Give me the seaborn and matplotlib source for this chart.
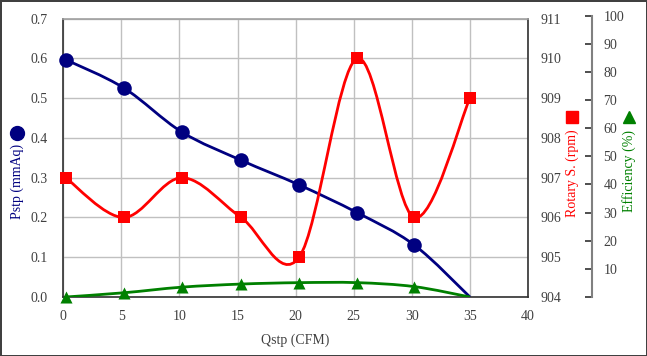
import numpy as np
import pandas as pd
import seaborn as sns
import matplotlib.pyplot as plt
from matplotlib.path import Path
from matplotlib.patches import PathPatch
from matplotlib.lines import Line2D

# data
qstp = [0.2, 5.2, 10.2, 15.3, 20.3, 25.3, 30.2, 35.0]
pstp = [0.597, 0.526, 0.415, 0.344, 0.282, 0.212, 0.131, 0.0]
rpm = [907, 906, 907, 906, 905, 910, 906, 909]
eff = [0.0, 1.5, 3.5, 4.6, 5.1, 5.1, 3.7, 0.0]

df = pd.DataFrame({'Qstp': qstp, 'Pstp': pstp, 'rpm': rpm, 'eff': eff})

sns.set_style("white")
plt.rcParams['font.family'] = ['Liberation Serif', 'DejaVu Sans']
plt.rcParams['font.size'] = 10

NAVY = '#000080'
RED = '#ff0000'
GREEN = '#008000'
TXT = '#404040'


def smooth(x, y):
    # excel-like smoothed line (bezier through the points)
    p = np.column_stack([x, y]).astype(float)
    n = len(p)
    verts = [p[0]]
    codes = [Path.MOVETO]
    for i in range(n - 1):
        p0 = p[max(i - 1, 0)]
        p1 = p[i]
        p2 = p[i + 1]
        p3 = p[min(i + 2, n - 1)]
        verts += [p1 + (p2 - p0) / 6, p2 - (p3 - p1) / 6, p2]
        codes += [Path.CURVE4] * 3
    return Path(verts, codes)


W, H = 647, 356
fig = plt.figure(figsize=(W / 100, H / 100), dpi=100)
fig.patch.set_edgecolor('#404040')
fig.patch.set_linewidth(2)

left, right, top, bot = 63.3, 528, 18.7, 297
ax = fig.add_axes([left / W, 1 - bot / H, (right - left) / W, (bot - top) / H])
ax2 = ax.twinx()
ax3 = fig.add_axes([left / W, 1 - bot / H, (right - left) / W, (bot - 15.7) / H], sharex=ax)
ax3.patch.set_visible(False)

# Pstp
ax.add_patch(PathPatch(smooth(df.Qstp, df.Pstp), fill=False, ec=NAVY, lw=2, zorder=3))
sns.scatterplot(data=df.iloc[:-1], x='Qstp', y='Pstp', ax=ax, color=NAVY, marker='o',
                s=110, edgecolor=NAVY, linewidth=0, zorder=4, clip_on=False)
# rotary speed
ax2.add_patch(PathPatch(smooth(df.Qstp, df.rpm), fill=False, ec=RED, lw=2, zorder=3))
sns.scatterplot(data=df, x='Qstp', y='rpm', ax=ax2, color=RED, marker='s',
                s=80, edgecolor=RED, linewidth=0, zorder=4, clip_on=False)
# efficiency
ax3.add_patch(PathPatch(smooth(df.Qstp, df.eff), fill=False, ec=GREEN, lw=2, zorder=3))
sns.scatterplot(data=df.iloc[:-1], x='Qstp', y='eff', ax=ax3, color=GREEN, marker='^',
                s=75, edgecolor=GREEN, linewidth=0, zorder=4, clip_on=False)

ax.set_xlim(0, 40)
ax.set_xticks(range(0, 41, 5))
ax.set_ylim(0, 0.7)
ax.set_yticks(np.arange(0, 0.71, 0.1))
ax.set_yticklabels([f'{v:.1f}' for v in np.arange(0, 0.71, 0.1)])
ax.grid(True, color='#c0c0c0', lw=1)
ax.tick_params(axis='y', length=0, pad=11, labelcolor=TXT, labelsize=10)
ax.tick_params(axis='x', length=0, pad=9, labelcolor=TXT, labelsize=10)
ax.set_xlabel('Qstp (CFM)', color=TXT, labelpad=8)
ax.set_ylabel('')
for s in ax.spines.values():
    s.set_color('#303030')
    s.set_linewidth(1.2)
ax.spines['top'].set_color('#a0a0a0')

ax2.set_ylim(904, 911)
ax2.set_yticks(range(904, 912))
ax2.tick_params(axis='y', length=0, pad=9, labelcolor=TXT, labelsize=10)
ax2.set_ylabel('')
for s in ax2.spines.values():
    s.set_visible(False)

ax3.set_ylim(0, 100)
ax3.set_yticks(range(0, 101, 10))
ax3.set_yticklabels([''] + [str(v) for v in range(10, 101, 10)])
ax3.yaxis.tick_right()
ax3.tick_params(axis='y', direction='in', length=5, width=1.2, color='#303030',
                pad=8, labelcolor=TXT, labelsize=10)
ax3.tick_params(axis='x', bottom=False, labelbottom=False)
ax3.set_xlabel('')
ax3.set_ylabel('')
for name, s in ax3.spines.items():
    s.set_visible(name == 'right')
ax3.spines['right'].set_position(('axes', (592.3 - left) / (right - left)))
ax3.spines['right'].set_bounds(0, 100)
ax3.spines['right'].set_color('#808080')
ax3.spines['right'].set_linewidth(1.5)

# axis titles with their marker keys
fig.text(17 / W, 1 - 181.5 / H, 'Pstp (mmAq)', rotation=90, ha='center', va='center', color=NAVY)
fig.text(572.7 / W, 1 - 173 / H, 'Rotary S. (rpm)', rotation=90, ha='center', va='center', color=RED)
fig.text(629 / W, 1 - 170.5 / H, 'Efficiency (%)', rotation=90, ha='center', va='center', color=GREEN)
fig.add_artist(Line2D([17 / W], [1 - 133 / H], marker='o', ms=10, color=NAVY, transform=fig.transFigure))
fig.add_artist(Line2D([572 / W], [1 - 117 / H], marker='s', ms=9, color=RED, transform=fig.transFigure))
fig.add_artist(Line2D([629 / W], [1 - 117 / H], marker='^', ms=9, color=GREEN, transform=fig.transFigure))

fig.savefig('out.png', dpi=100, edgecolor=fig.get_edgecolor())
